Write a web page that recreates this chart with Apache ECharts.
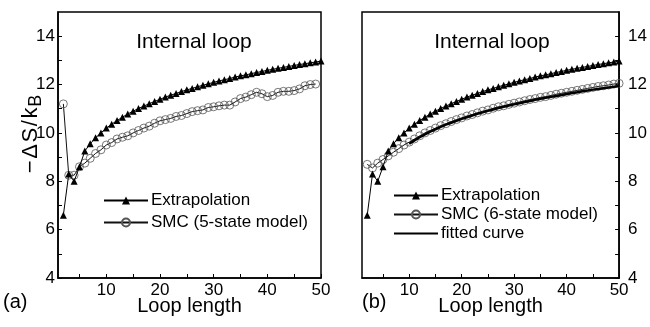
<!DOCTYPE html>
<html>
<head>
<meta charset="utf-8">
<script src="https://cdn.jsdelivr.net/npm/echarts@6/dist/echarts.min.js"></script>
<style>
  html, body { margin: 0; padding: 0; background: #fff; }
  #chart { width: 650px; height: 327px; }
</style>
</head>
<body>
<div id="chart"></div>
<script>
// loop lengths n = 2..50
const loopLen = [2, 3, 4, 5, 6, 7, 8, 9, 10, 11, 12, 13, 14, 15, 16, 17, 18, 19, 20, 21, 22, 23, 24, 25, 26,
  27, 28, 29, 30, 31, 32, 33, 34, 35, 36, 37, 38, 39, 40, 41, 42, 43, 44, 45, 46, 47, 48, 49, 50];

const extrapolation = [6.6, 8.3, 8.0, 8.6, 9.25, 9.55, 9.8, 10.0, 10.2, 10.36, 10.51, 10.65, 10.78, 10.9,
  11.01, 11.11, 11.21, 11.3, 11.39, 11.48, 11.56, 11.63, 11.71, 11.78, 11.84, 11.91, 11.97, 12.03, 12.09,
  12.15, 12.2, 12.25, 12.31, 12.36, 12.4, 12.45, 12.5, 12.54, 12.59, 12.63, 12.67, 12.71, 12.75, 12.79,
  12.83, 12.86, 12.9, 12.93, 12.97];

// 5-state model, n = 2..49
const smc5 = [11.2, 8.25, 8.25, 8.6, 8.75, 8.95, 9.15, 9.3, 9.5, 9.6, 9.75, 9.82, 9.88, 10.0, 10.1, 10.2,
  10.28, 10.4, 10.5, 10.55, 10.6, 10.68, 10.72, 10.8, 10.88, 10.92, 10.95, 11.05, 11.08, 11.12, 11.15,
  11.15, 11.28, 11.42, 11.48, 11.58, 11.68, 11.62, 11.5, 11.55, 11.68, 11.72, 11.72, 11.75, 11.82, 11.95,
  12.0, 12.02];

// 6-state model, n = 2..50
const smc6 = [8.7, 8.55, 8.75, 8.9, 9.05, 9.2, 9.35, 9.5, 9.62, 9.75, 9.88, 10.0, 10.1, 10.2, 10.3, 10.38,
  10.47, 10.55, 10.62, 10.7, 10.76, 10.83, 10.9, 10.95, 11.02, 11.08, 11.12, 11.18, 11.23, 11.28, 11.33,
  11.38, 11.42, 11.47, 11.5, 11.55, 11.6, 11.64, 11.68, 11.72, 11.76, 11.8, 11.84, 11.88, 11.92, 11.95,
  11.98, 12.02, 12.05];

// fitted curve, n = 10..50
const fitLen = [10, 11, 12, 13, 14, 15, 16, 17, 18, 19, 20, 21, 22, 23, 24, 25, 26, 27, 28, 29, 30, 31, 32,
  33, 34, 35, 36, 37, 38, 39, 40, 41, 42, 43, 44, 45, 46, 47, 48, 49, 50];
const fitted = [9.55, 9.69, 9.82, 9.94, 10.05, 10.15, 10.25, 10.34, 10.42, 10.5, 10.58, 10.65, 10.72, 10.79,
  10.85, 10.91, 10.97, 11.03, 11.08, 11.13, 11.18, 11.23, 11.28, 11.32, 11.37, 11.41, 11.45, 11.49, 11.53,
  11.57, 11.61, 11.65, 11.68, 11.72, 11.75, 11.79, 11.82, 11.85, 11.88, 11.91, 11.94];

const xLabels = [10, 20, 30, 40, 50];
const xTicks = [5, 10, 15, 20, 25, 30, 35, 40, 45, 50];
const yLabels = [4, 6, 8, 10, 12, 14];
const yTicks = [4, 5, 6, 7, 8, 9, 10, 11, 12, 13, 14];

const FONT = '"Liberation Sans", Arial, sans-serif';
const pairs = (xs, ys) => ys.map((v, i) => [xs[i], v]);

const xAxisOf = (gridIndex, name) => ({
  type: 'value', gridIndex, min: 1, max: 50,
  name, nameLocation: 'middle', nameGap: 18, nameMoveOverlap: false,
  nameTextStyle: { fontFamily: FONT, fontSize: 20, color: '#000' },
  axisLine: { lineStyle: { color: '#000', width: 1.5 } },
  axisTick: { inside: true, length: 4, customValues: xTicks, lineStyle: { color: '#000' } },
  axisLabel: { customValues: xLabels, margin: 4, fontFamily: FONT, fontSize: 17, color: '#000' },
  splitLine: { show: false }
});

const yAxisOf = (gridIndex, position, margin) => ({
  type: 'value', gridIndex, position, min: 4, max: 15,
  axisLine: { lineStyle: { color: '#000', width: 1.5 } },
  axisTick: { inside: true, length: 4, customValues: yTicks, lineStyle: { color: '#000' } },
  axisLabel: { customValues: yLabels, margin, fontFamily: FONT, fontSize: 17, color: '#000' },
  splitLine: { show: false }
});

const extrapSeries = (idx) => ({
  name: 'Extrapolation', type: 'line', xAxisIndex: idx, yAxisIndex: idx,
  data: pairs(loopLen, extrapolation),
  symbol: 'triangle', symbolSize: 7,
  lineStyle: { color: '#000', width: 1 },
  itemStyle: { color: '#000' }, z: 4
});

const smcStyle = {
  type: 'line', symbol: 'circle', symbolSize: 8,
  lineStyle: { color: '#111', width: 1 },
  itemStyle: { color: 'rgba(255,255,255,0)', borderColor: '#555', borderWidth: 0.8 }, z: 3
};

const legendOf = (left, top, names, gap) => ({
  left, top, orient: 'vertical', padding: 0, itemWidth: 44, itemHeight: 10, itemGap: gap,
  data: names, selectedMode: false,
  textStyle: { fontFamily: FONT, fontSize: 17, color: '#000', padding: [0, 0, 0, -2] }
});

// rotated y-axis title
const yTitle = '{g|−}{g|Δ}{g|S}{g|/}{g|k}{s|B}';

const chart = echarts.init(document.getElementById('chart'), null, { renderer: 'canvas' });
chart.setOption({
  backgroundColor: '#fff',
  animation: false,
  grid: [
    { left: 58, right: 329, top: 12, bottom: 49, show: true, borderColor: '#000', borderWidth: 1.5 },
    { left: 362, right: 26, top: 12, bottom: 49, show: true, borderColor: '#000', borderWidth: 1.5 }
  ],
  xAxis: [xAxisOf(0, 'Loop length'), xAxisOf(1, 'Loop length')],
  yAxis: [yAxisOf(0, 'left', 3), yAxisOf(1, 'right', 9)],
  legend: [
    legendOf(103, 192, ['Extrapolation', 'SMC (5-state model)'], 5),
    legendOf(393, 187, ['Extrapolation', 'SMC (6-state model)',
      { name: 'fitted curve', itemStyle: { opacity: 0 } }], 2)
  ],
  graphic: [
    { type: 'text', x: 194, y: 32, style: { text: 'Internal loop', font: '21px ' + FONT, fill: '#000', align: 'center' } },
    { type: 'text', x: 492, y: 32, style: { text: 'Internal loop', font: '21px ' + FONT, fill: '#000', align: 'center' } },
    { type: 'text', left: 3, top: 292, style: { text: '(a)', font: '20px ' + FONT, fill: '#000' } },
    { type: 'text', left: 362, top: 292, style: { text: '(b)', font: '20px ' + FONT, fill: '#000' } },
    {
      type: 'text', x: 16, y: 174, rotation: Math.PI / 2,
      style: {
        text: yTitle,
        rich: {
          g: { fontFamily: FONT, fontSize: 22, fill: '#000', padding: [0, 0.8, 0, 0.8] },
          s: { fontFamily: FONT, fontSize: 18, fill: '#000', padding: [11, 0, 0, 0] }
        }
      }
    }
  ],
  series: [
    extrapSeries(0),
    Object.assign({ name: 'SMC (5-state model)', xAxisIndex: 0, yAxisIndex: 0, data: pairs(loopLen, smc5) }, smcStyle),
    extrapSeries(1),
    Object.assign({ name: 'SMC (6-state model)', xAxisIndex: 1, yAxisIndex: 1, data: pairs(loopLen, smc6) }, smcStyle),
    {
      name: 'fitted curve', type: 'line', xAxisIndex: 1, yAxisIndex: 1,
      data: pairs(fitLen, fitted), symbol: 'none',
      lineStyle: { color: '#000', width: 2.5 }, itemStyle: { color: '#000' }, z: 5
    }
  ]
});
</script>
</body>
</html>
